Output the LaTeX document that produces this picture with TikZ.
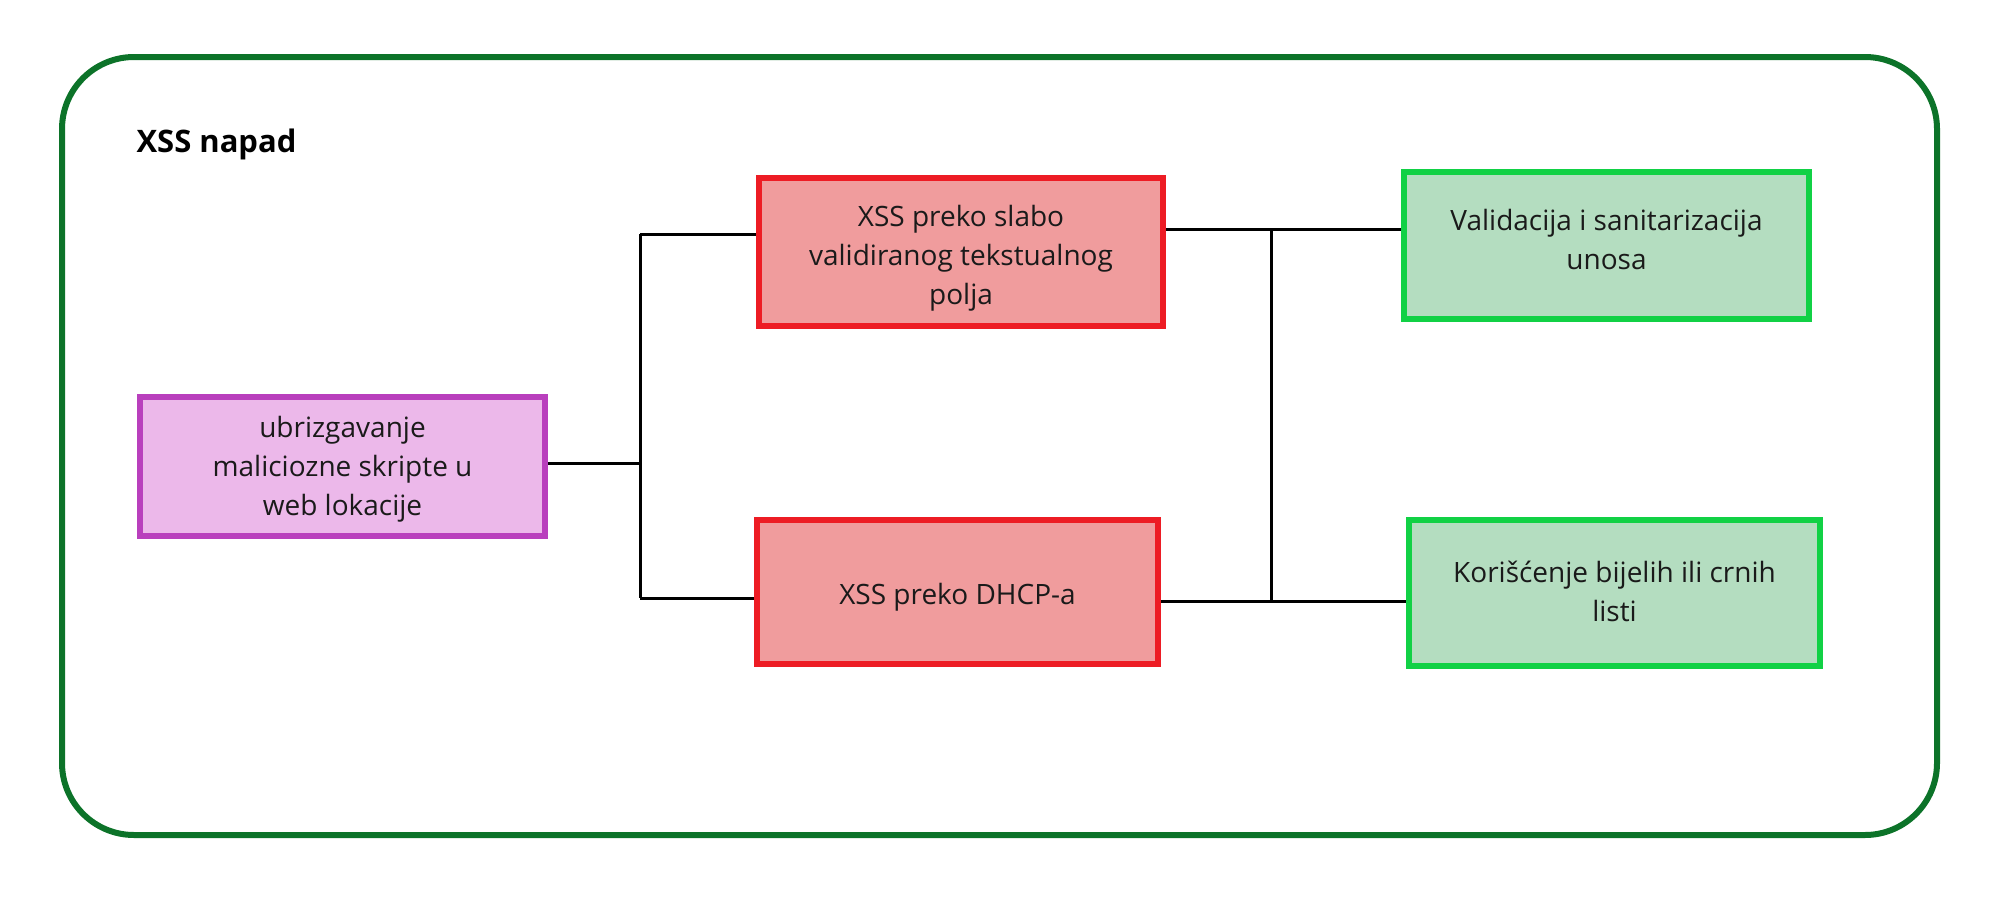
\documentclass[tikz,border=0pt]{standalone}
\usepackage{fontspec}
\setmainfont{Open Sans}
\definecolor{outergreen}{HTML}{0C7329}
\definecolor{purpleline}{HTML}{B93FBD}
\definecolor{purplefill}{HTML}{ECB8EA}
\definecolor{redline}{HTML}{ED1C24}
\definecolor{redfill}{HTML}{F09C9D}
\definecolor{greenline}{HTML}{11D145}
\definecolor{greenfill}{HTML}{B4DDC0}
\definecolor{txt}{HTML}{1A1A1A}
\tikzset{
  boxbase/.style={draw, line width=6pt, inner sep=0pt},
  boxtext/.style={align=center, inner sep=0pt, text=txt,
    font=\fontsize{28}{39}\selectfont},
  purplebox/.style={boxbase, draw=purpleline, fill=purplefill},
  redbox/.style={boxbase, draw=redline, fill=redfill},
  greenbox/.style={boxbase, draw=greenline, fill=greenfill},
  conn/.style={draw=black, line width=3pt},
  outerframe/.style={draw=outergreen, line width=6pt, rounded corners=72pt}
}
\begin{document}
\begin{tikzpicture}[x=1pt,y=-1pt]
\useasboundingbox (0,0) rectangle (2003,918);
\draw[outerframe] (62,57) rectangle (1937,835);
\node[anchor=base west, font=\fontsize{31}{38}\selectfont\bfseries, text=black] (title) at (133,152) {XSS napad};

\node[purplebox, minimum width=405pt, minimum height=139pt,
  label={[boxtext, yshift=-3pt]center:{ubrizgavanje\\maliciozne skripte u\\web lokacije}}] (p) at (342.5,466.5) {};
\node[redbox, minimum width=404pt, minimum height=148pt,
  label={[boxtext, yshift=-6pt]center:{XSS preko slabo\\validiranog tekstualnog\\polja}}] (r1) at (961,252) {};
\node[redbox, minimum width=401pt, minimum height=144pt,
  label={[boxtext, yshift=-5pt]center:{XSS preko DHCP-a}}] (r2) at (957.5,592) {};
\node[greenbox, minimum width=405pt, minimum height=147pt,
  label={[boxtext, yshift=6pt]center:{Validacija i sanitarizacija\\unosa}}] (g1) at (1606.5,245.5) {};
\node[greenbox, minimum width=411pt, minimum height=146pt,
  label={[boxtext, yshift=2pt]center:{Korišćenje bijelih ili crnih\\listi}}] (g2) at (1614.5,593) {};

\coordinate (lt) at (640,234);
\coordinate (lb) at (640,598);
\coordinate (lm) at (640,463);
\coordinate (rt) at (1271,229);
\coordinate (rb) at (1271,601);

\draw[conn] (p.east |- lm) -- (lm);
\draw[conn] (lt) -- (lb);
\draw[conn] (lt) -- (lt -| r1.west);
\draw[conn] (lb) -- (lb -| r2.west);
\draw[conn] (r1.east |- rt) -- (rt -| g1.west);
\draw[conn] (rt) -- (rb);
\draw[conn] (r2.east |- rb) -- (rb -| g2.west);
\end{tikzpicture}
\end{document}
